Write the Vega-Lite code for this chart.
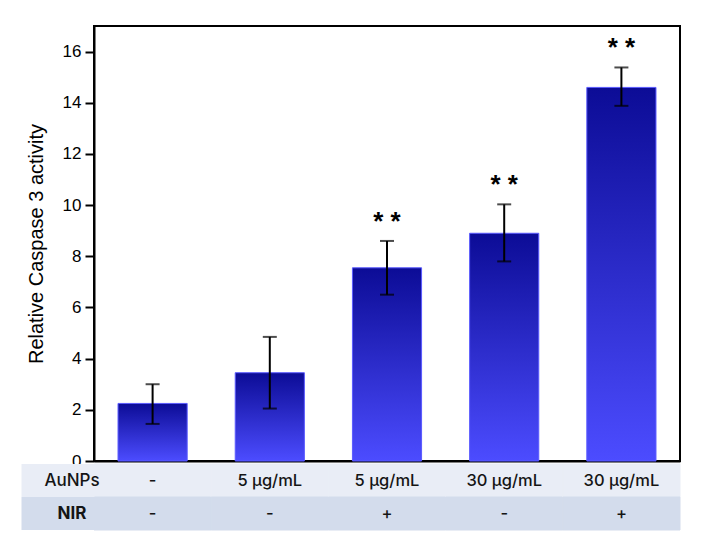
{
  "$schema": "https://vega.github.io/schema/vega-lite/v6.json",
  "padding": {"left": 4, "top": 25, "right": 5, "bottom": 5},
  "config": {"font": "Liberation Sans", "view": {"stroke": null}},
  "data": {"values": [
    {"group": "G1", "AuNPs": "-", "NIR": "-", "mean": 2.25, "lo": 1.45, "hi": 3.0, "sig": ""},
    {"group": "G2", "AuNPs": "5 µg/mL", "NIR": "-", "mean": 3.45, "lo": 2.05, "hi": 4.85, "sig": ""},
    {"group": "G3", "AuNPs": "5 µg/mL", "NIR": "+", "mean": 7.55, "lo": 6.5, "hi": 8.6, "sig": "* *"},
    {"group": "G4", "AuNPs": "30 µg/mL", "NIR": "-", "mean": 8.9, "lo": 7.8, "hi": 10.03, "sig": "* *"},
    {"group": "G5", "AuNPs": "30 µg/mL", "NIR": "+", "mean": 14.6, "lo": 13.88, "hi": 15.38, "sig": "* *"}
  ]},
  "bounds": "flush",
  "spacing": 3,
  "vconcat": [
    {
      "width": 586,
      "height": 435,
      "view": {"stroke": "black", "strokeWidth": 2},
      "encoding": {
        "x": {"field": "group", "type": "nominal", "scale": {"paddingInner": 0.41, "paddingOuter": 0.205},
          "axis": {"labels": false, "ticks": false, "title": null, "domainColor": "black", "domainWidth": 2, "minExtent": 0, "maxExtent": 0}}
      },
      "layer": [
        {
          "mark": {"type": "bar", "stroke": "#5a5aff", "strokeWidth": 1,
            "color": {"gradient": "linear", "x1": 0, "y1": 0, "x2": 0, "y2": 1,
              "stops": [{"offset": 0, "color": "#0c0c96"}, {"offset": 1, "color": "#4c4cff"}]}},
          "encoding": {
            "y": {"field": "mean", "type": "quantitative", "scale": {"domain": [0, 17], "nice": false},
              "axis": {
                "values": [0,1,2,3,4,5,6,7,8,9,10,11,12,13,14,15,16],
                "labelExpr": "datum.value % 2 === 0 ? datum.label : ''",
                "tickSize": {"condition": {"test": "datum.value % 2 === 0", "value": 9}, "value": 5},
                "tickColor": "black", "tickWidth": 2, "domainColor": "black", "domainWidth": 2,
                "grid": false, "labelFontSize": 17, "labelColor": "black", "labelPadding": 4,
                "title": "Relative Caspase 3 activity", "titleFontSize": 20, "titleFontWeight": "normal",
                "titleColor": "black", "titlePadding": 16
              }}
          }
        },
        {
          "mark": {"type": "rule", "color": "black", "strokeWidth": 2},
          "encoding": {"y": {"field": "lo", "type": "quantitative"}, "y2": {"field": "hi"}}
        },
        {
          "mark": {"type": "tick", "color": "black", "thickness": 2, "size": 14},
          "encoding": {"y": {"field": "lo", "type": "quantitative"}}
        },
        {
          "mark": {"type": "tick", "color": "black", "thickness": 2, "size": 14},
          "encoding": {"y": {"field": "hi", "type": "quantitative"}}
        },
        {
          "mark": {"type": "text", "dy": -19, "fontSize": 26, "fontWeight": "bold", "baseline": "middle", "color": "black"},
          "encoding": {"y": {"field": "hi", "type": "quantitative"}, "text": {"field": "sig"}}
        }
      ]
    },
    {
      "width": 586,
      "height": 66,
      "transform": [{"fold": ["AuNPs", "NIR"], "as": ["row", "val"]}],
      "encoding": {
        "x": {"field": "group", "type": "nominal", "scale": {"paddingInner": 0, "paddingOuter": 0}, "axis": null},
        "y": {"field": "row", "type": "nominal", "scale": {"domain": ["AuNPs", "NIR"], "paddingInner": 0, "paddingOuter": 0},
          "axis": {
            "title": null, "domain": false, "tickSize": 73, "tickWidth": 33,
            "tickColor": {"condition": {"test": "datum.value === 'NIR'", "value": "#d3dcec"}, "value": "#e9edf6"},
            "labelAlign": "center", "labelPadding": -50.5, "labelFontSize": 17, "labelColor": "#151515",
            "labelFont": "Inter",
            "labelFontWeight": {"condition": {"test": "datum.value === 'NIR'", "value": "bold"}, "value": 500}
          }}
      },
      "layer": [
        {
          "mark": {"type": "rect", "strokeWidth": 1},
          "encoding": {
            "color": {"field": "row", "type": "nominal",
              "scale": {"domain": ["AuNPs", "NIR"], "range": ["#e9edf6", "#d3dcec"]}, "legend": null},
            "stroke": {"field": "row", "type": "nominal",
              "scale": {"domain": ["AuNPs", "NIR"], "range": ["#e9edf6", "#d3dcec"]}, "legend": null}
          }
        },
        {
          "mark": {"type": "text", "fontSize": 16.5, "color": "#151515", "font": "Inter", "fontWeight": 500},
          "encoding": {"text": {"field": "val"}}
        }
      ]
    }
  ],
  "resolve": {"scale": {"x": "independent", "y": "independent", "color": "independent", "stroke": "independent"}}
}
